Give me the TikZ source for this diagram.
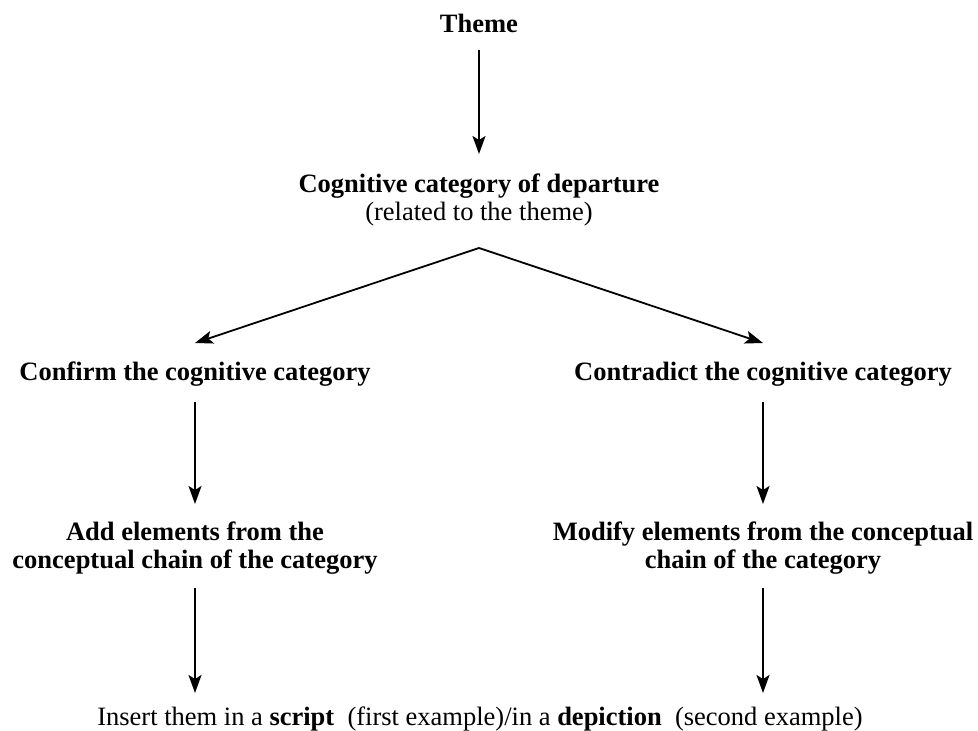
\documentclass[tikz,border=0pt]{standalone}
\usepackage{fontspec}
\setmainfont{Liberation Serif}
\usetikzlibrary{arrows.meta}
\begin{document}
\begin{tikzpicture}[x=1pt,y=-1pt,
  txt/.style={inner sep=0pt, outer sep=0pt, anchor=base, align=center, font=\fontsize{26.5}{28}\selectfont},
  arr/.style={-{Stealth[length=18pt,width=13pt,inset=4pt]}, line width=1.8pt}]
\useasboundingbox (0,0) rectangle (978,731);
\node[txt] (theme) at (479,32) {\textbf{Theme}};
\node[txt] (cog) at (479,220) {\textbf{Cognitive category of departure}\\(related to the theme)};
\node[txt] (conf) at (195,380) {\textbf{Confirm the cognitive category}};
\node[txt] (contr) at (763,380) {\textbf{Contradict the cognitive category}};
\node[txt] (add) at (195,568) {\textbf{Add elements from the}\\\textbf{conceptual chain of the category}};
\node[txt] (mod) at (763,568) {\textbf{Modify elements from the conceptual}\\\textbf{chain of the category}};
\node[txt] (ins) at (480,725) {Insert them in a \textbf{script}\ \ (first example)/in a \textbf{depiction}\ \ (second example)};
\coordinate (apex) at (479,248);
\coordinate (lt) at (195,343);
\coordinate (rt) at (763,343);
\draw[arr, shorten <=18pt, shorten >=66pt] (theme.base) -- (cog.base);
\draw[arr] (apex) -- (lt);
\draw[arr] (apex) -- (rt);
\draw[arr, shorten <=22pt, shorten >=64pt] (conf.base) -- (add.base);
\draw[arr, shorten <=22pt, shorten >=64pt] (contr.base) -- (mod.base);
\draw[arr, shorten <=20pt, shorten >=32pt] (add.base) -- (add.base |- ins.base);
\draw[arr, shorten <=20pt, shorten >=32pt] (mod.base) -- (mod.base |- ins.base);
\end{tikzpicture}
\end{document}
